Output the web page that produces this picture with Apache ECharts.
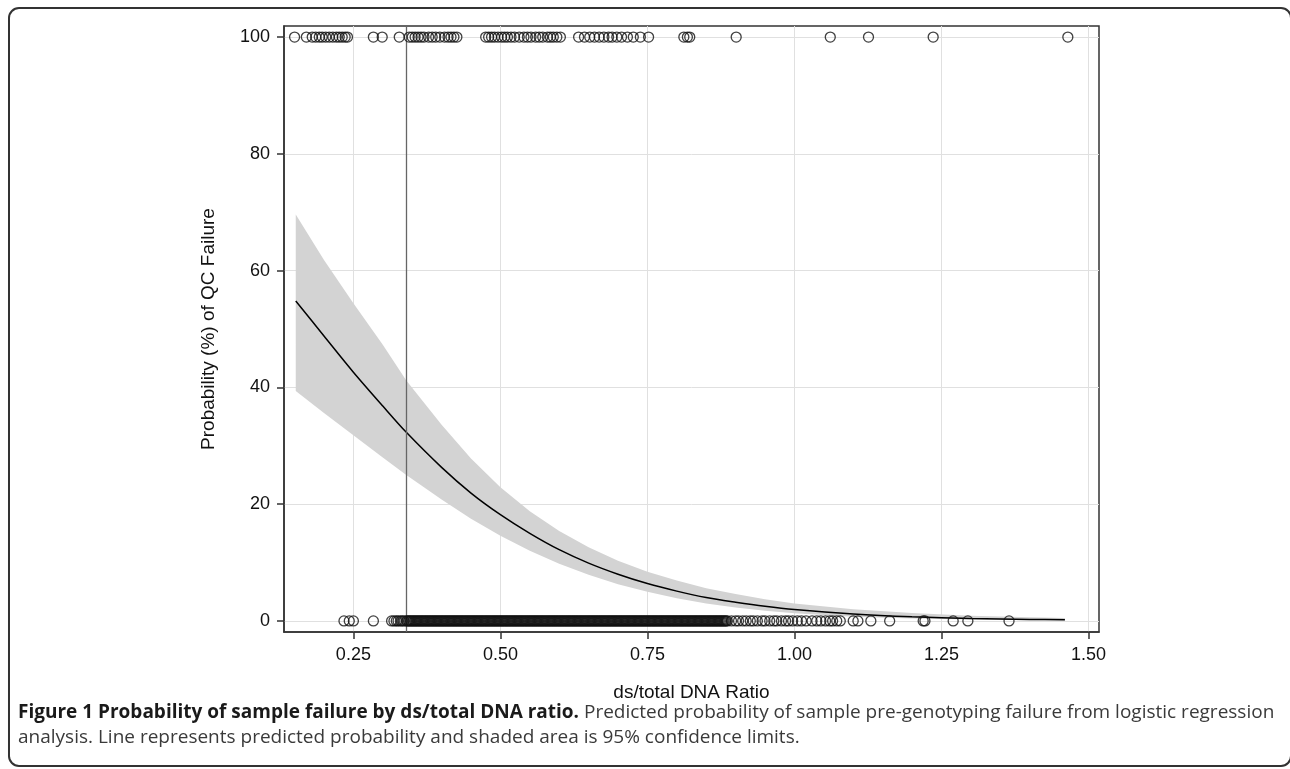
<!DOCTYPE html>
<html><head><meta charset="utf-8">
<script src="https://cdn.jsdelivr.net/npm/echarts@6/dist/echarts.min.js"></script>
<style>html,body{margin:0;padding:0;background:#fff}#c{width:1290px;height:769px}</style>
</head><body><div id="c"></div>
<script>
// ---- data ----
const xTicks = [0.25, 0.50, 0.75, 1.00, 1.25, 1.50];
const yTicks = [0, 20, 40, 60, 80, 100];
const refLineX = 0.34;

const curveX = [0.152,0.20,0.25,0.30,0.34,0.40,0.45,0.50,0.55,0.60,0.65,0.70,0.75,0.80,0.85,0.90,0.95,1.00,1.10,1.20,1.30,1.40,1.46];
const curveY = [54.8,48.8,42.6,36.8,32.3,26.3,21.9,18.2,15.0,12.2,9.9,8.0,6.4,5.1,4.0,3.2,2.5,1.95,1.2,0.72,0.43,0.26,0.2];
const lowerY = [39.4,35.6,31.8,28.0,25.0,20.8,17.5,14.6,12.0,9.8,7.9,6.3,5.0,3.9,3.0,2.3,1.75,1.3,0.72,0.4,0.22,0.12,0.08];
const upperY = [69.6,61.8,54.4,47.3,41.2,33.6,27.8,22.9,18.8,15.4,12.6,10.3,8.4,6.9,5.6,4.6,3.7,3.0,2.0,1.35,0.9,0.62,0.5];

// samples that failed QC (plotted at 100)
const failedX = [0.150,0.170,0.180,0.186,0.192,0.197,0.203,0.209,0.215,0.221,0.226,0.231,0.236,0.240,
  0.284,0.299,
  0.328,0.345,0.350,0.355,0.360,0.365,0.370,0.378,0.384,0.390,0.397,0.405,0.411,0.416,0.421,0.426,
  0.475,0.480,0.485,0.490,0.496,0.502,0.507,0.512,0.518,0.524,0.532,0.540,0.546,0.552,0.560,0.566,0.572,0.580,0.585,0.590,0.596,0.602,
  0.633,0.643,0.652,0.660,0.668,0.676,0.684,0.690,0.698,0.706,0.716,0.726,0.738,0.752,
  0.812,0.818,0.822,
  0.901,1.061,1.126,1.236,1.465];

// samples that passed QC (plotted at 0); the 0.34-0.89 run is so dense it reads as a solid bar
const passedX = [0.234,0.243,0.250,0.284,0.315,0.319,0.323,0.326,0.330,0.333,0.336,
  0.340,0.342,0.344,0.346,0.348,0.350,0.352,0.354,0.356,0.358,0.360,0.362,0.364,0.366,0.368,0.370,0.372,0.374,0.376,0.378,
  0.380,0.382,0.384,0.386,0.388,0.390,0.392,0.394,0.396,0.398,0.400,0.402,0.404,0.406,0.408,0.410,0.412,0.414,0.416,0.418,
  0.420,0.422,0.424,0.426,0.428,0.430,0.432,0.434,0.436,0.438,0.440,0.442,0.444,0.446,0.448,0.450,0.452,0.454,0.456,0.458,
  0.460,0.462,0.464,0.466,0.468,0.470,0.472,0.474,0.476,0.478,0.480,0.482,0.484,0.486,0.488,0.490,0.492,0.494,0.496,0.498,
  0.500,0.502,0.504,0.506,0.508,0.510,0.512,0.514,0.516,0.518,0.520,0.522,0.524,0.526,0.528,0.530,0.532,0.534,0.536,0.538,
  0.540,0.542,0.544,0.546,0.548,0.550,0.552,0.554,0.556,0.558,0.560,0.562,0.564,0.566,0.568,0.570,0.572,0.574,0.576,0.578,
  0.580,0.582,0.584,0.586,0.588,0.590,0.592,0.594,0.596,0.598,0.600,0.602,0.604,0.606,0.608,0.610,0.612,0.614,0.616,0.618,
  0.620,0.622,0.624,0.626,0.628,0.630,0.632,0.634,0.636,0.638,0.640,0.642,0.644,0.646,0.648,0.650,0.652,0.654,0.656,0.658,
  0.660,0.662,0.664,0.666,0.668,0.670,0.672,0.674,0.676,0.678,0.680,0.682,0.684,0.686,0.688,0.690,0.692,0.694,0.696,0.698,
  0.700,0.702,0.704,0.706,0.708,0.710,0.712,0.714,0.716,0.718,0.720,0.722,0.724,0.726,0.728,0.730,0.732,0.734,0.736,0.738,
  0.740,0.742,0.744,0.746,0.748,0.750,0.752,0.754,0.756,0.758,0.760,0.762,0.764,0.766,0.768,0.770,0.772,0.774,0.776,0.778,
  0.780,0.782,0.784,0.786,0.788,0.790,0.792,0.794,0.796,0.798,0.800,0.802,0.804,0.806,0.808,0.810,0.812,0.814,0.816,0.818,
  0.820,0.822,0.824,0.826,0.828,0.830,0.832,0.834,0.836,0.838,0.840,0.842,0.844,0.846,0.848,0.850,0.852,0.854,0.856,0.858,
  0.860,0.862,0.864,0.866,0.868,0.870,0.872,0.874,0.876,0.878,0.880,0.882,0.884,0.886,
  0.893,0.900,0.905,0.912,0.918,0.925,0.930,0.937,0.945,0.950,0.958,0.965,0.970,0.978,0.985,0.990,0.997,1.005,1.012,1.020,
  1.030,1.038,1.045,1.053,1.060,1.065,1.072,1.078,
  1.100,1.108,1.130,1.162,1.219,1.222,1.270,1.295,1.365];

const xTitle = 'ds/total DNA Ratio';
const yTitle = 'Probability (%) of QC Failure';
const captionBold = 'Figure 1 Probability of sample failure by ds/total DNA ratio.';
const captionLine1 = ' Predicted probability of sample pre-genotyping failure from logistic regression';
const captionLine2 = 'analysis. Line represents predicted probability and shaded area is 95% confidence limits.';

// ---- chart ----
const chart = echarts.init(document.getElementById('c'), null, {renderer: 'canvas'});
const axisFont = 'Liberation Sans, Arial, sans-serif';
const dark = '#333';

const option = {
  animation: false,
  backgroundColor: '#fff',
  grid: {left: 284, top: 26, right: 191, bottom: 137, show: true, borderColor: dark, borderWidth: 1.5, backgroundColor: 'transparent'},
  xAxis: {
    type: 'value', min: 0.132, max: 1.518,
    name: xTitle, nameLocation: 'middle', nameGap: 51,
    nameTextStyle: {fontSize: 19, color: '#111', fontFamily: axisFont},
    axisLine: {show: true, onZero: false, lineStyle: {color: dark, width: 1.5}},
    axisTick: {show: true, length: 7, customValues: xTicks, lineStyle: {color: dark, width: 1.5}},
    axisLabel: {customValues: xTicks, formatter: v => v.toFixed(2), margin: 14, fontSize: 18, color: '#111', fontFamily: axisFont},
    splitLine: {show: true, lineStyle: {color: '#e0e0e0', width: 1}}
  },
  yAxis: {
    type: 'value', min: -1.9, max: 101.9,
    name: yTitle, nameLocation: 'middle', nameGap: 66,
    nameTextStyle: {fontSize: 19, color: '#111', fontFamily: axisFont},
    axisLine: {show: true, onZero: false, lineStyle: {color: dark, width: 1.5}},
    axisTick: {show: true, length: 7, customValues: yTicks, lineStyle: {color: dark, width: 1.5}},
    axisLabel: {customValues: yTicks, formatter: v => String(Math.round(v)), margin: 14, fontSize: 18, color: '#111', fontFamily: axisFont},
    splitLine: {show: true, lineStyle: {color: '#e0e0e0', width: 1}}
  },
  series: [
    {
      type: 'custom', z: 1, silent: true,
      data: [[curveX[0], curveY[0]]],
      renderItem: function (params, api) {
        const pts = [];
        for (let i = 0; i < curveX.length; i++) pts.push(api.coord([curveX[i], upperY[i]]));
        for (let i = curveX.length - 1; i >= 0; i--) pts.push(api.coord([curveX[i], lowerY[i]]));
        return {type: 'polygon', shape: {points: pts}, style: {fill: '#d3d3d3', stroke: null}};
      }
    },
    {
      type: 'line', z: 3, silent: true, showSymbol: false, smooth: 0.3,
      data: curveX.map((x, i) => [x, curveY[i]]),
      lineStyle: {color: '#000', width: 1.5},
      markLine: {
        silent: true, symbol: ['none', 'none'], label: {show: false},
        lineStyle: {color: '#666', width: 1.3, type: 'solid'},
        data: [{xAxis: refLineX}]
      }
    },
    {
      type: 'scatter', z: 5, silent: true, symbol: 'circle', symbolSize: 10,
      data: failedX.map(x => [x, 100]),
      itemStyle: {color: 'rgba(0,0,0,0)', borderColor: '#111', borderWidth: 1.3}
    },
    {
      type: 'scatter', z: 5, silent: true, symbol: 'circle', symbolSize: 10, large: false,
      data: passedX.map(x => [x, 0]),
      itemStyle: {color: 'rgba(0,0,0,0)', borderColor: '#111', borderWidth: 1.3}
    }
  ],
  graphic: [
    {type: 'rect', silent: true, shape: {x: 9, y: 8, width: 1282, height: 758, r: 10},
     style: {fill: null, stroke: '#333', lineWidth: 2}},
    {type: 'text', silent: true, left: 18, top: 703,
     style: {text: '{b|' + captionBold + '}{n|' + captionLine1 + '}',
       rich: {b: {fontFamily: 'Open Sans', fontWeight: 'bold', fontSize: 19, fill: '#1a1a1a'},
              n: {fontFamily: 'Open Sans', fontSize: 19, fill: '#3a3a3a'}}}},
    {type: 'text', silent: true, left: 18, top: 728,
     style: {text: captionLine2, fontFamily: 'Open Sans', fontSize: 19, fill: '#3a3a3a'}}
  ]
};
chart.setOption(option);
</script>
</body></html>
